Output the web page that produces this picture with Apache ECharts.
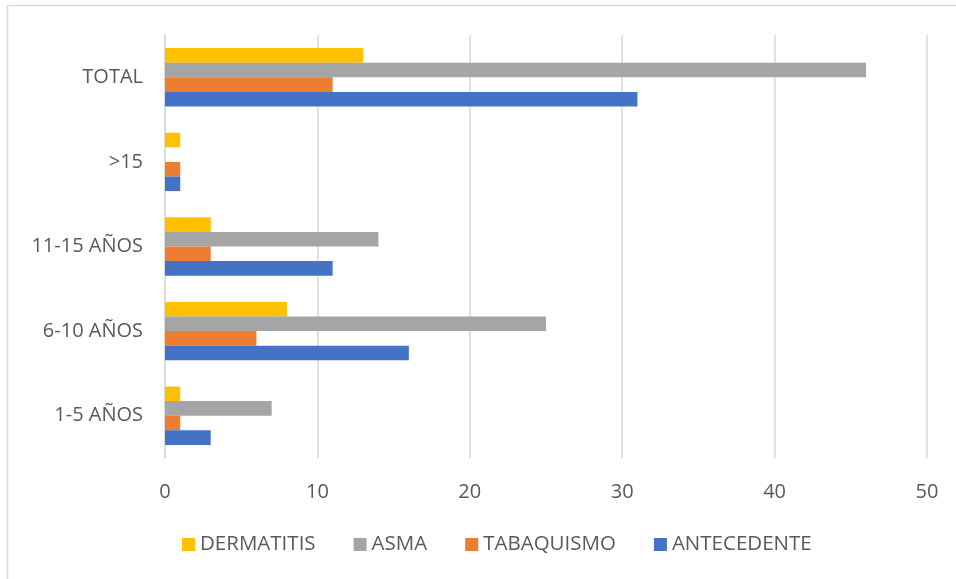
<!DOCTYPE html>
<html>
<head>
<meta charset="utf-8">
<script src="https://cdn.jsdelivr.net/npm/echarts@6/dist/echarts.min.js"></script>
<style>
  html, body { margin: 0; padding: 0; background: #fff; }
  #chart { width: 956px; height: 579px; }
</style>
</head>
<body>
<div id="chart"></div>
<script>
const categories = ["1-5 AÑOS", "6-10 AÑOS", "11-15 AÑOS", ">15", "TOTAL"];
const dermatitis = [1, 8, 3, 1, 13];
const asma = [7, 25, 14, 0, 46];
const tabaquismo = [1, 6, 3, 1, 11];
const antecedente = [3, 16, 11, 1, 31];
const xTicks = [0, 10, 20, 30, 40, 50];

const font = "'Open Sans', sans-serif";
const chart = echarts.init(document.getElementById("chart"));

const bar = (name, data, color) => ({
  name,
  type: "bar",
  data,
  barGap: "0%",
  barCategoryGap: "31%",
  itemStyle: { color },
});

chart.setOption({
  backgroundColor: "#fff",
  animation: false,
  textStyle: { fontFamily: font },
  graphic: [
    {
      type: "line",
      shape: { x1: 7.5, y1: 5.5, x2: 956, y2: 5.5 },
      style: { stroke: "#d9d9d9", lineWidth: 1.5 },
    },
    {
      type: "line",
      shape: { x1: 7.5, y1: 5.5, x2: 7.5, y2: 579 },
      style: { stroke: "#d9d9d9", lineWidth: 1.5 },
    },
  ],
  grid: { left: 165, right: 29, top: 35, bottom: 121 },
  legend: {
    bottom: 19,
    left: 177,
    itemWidth: 13,
    itemHeight: 13,
    itemGap: 38,
    icon: "rect",
    data: ["DERMATITIS", "ASMA", "TABAQUISMO", "ANTECEDENTE"],
    textStyle: { fontSize: 20.5, color: "#595959", fontFamily: font },
  },
  xAxis: {
    type: "value",
    min: xTicks[0],
    max: xTicks[xTicks.length - 1],
    interval: 10,
    axisLine: { show: false },
    axisTick: { show: false },
    splitLine: { lineStyle: { color: "#d9d9d9", width: 1.5 } },
    axisLabel: { fontSize: 20, color: "#595959", margin: 24, fontFamily: font },
  },
  yAxis: {
    type: "category",
    data: categories,
    axisLine: { show: true, lineStyle: { color: "#d9d9d9", width: 1.5 } },
    axisTick: { show: false },
    axisLabel: { fontSize: 20, color: "#595959", margin: 22, fontFamily: font },
  },
  series: [
    bar("DERMATITIS", dermatitis, "#FFC000"),
    bar("ASMA", asma, "#A5A5A5"),
    bar("TABAQUISMO", tabaquismo, "#ED7D31"),
    bar("ANTECEDENTE", antecedente, "#4472C4"),
  ],
});
</script>
</body>
</html>
